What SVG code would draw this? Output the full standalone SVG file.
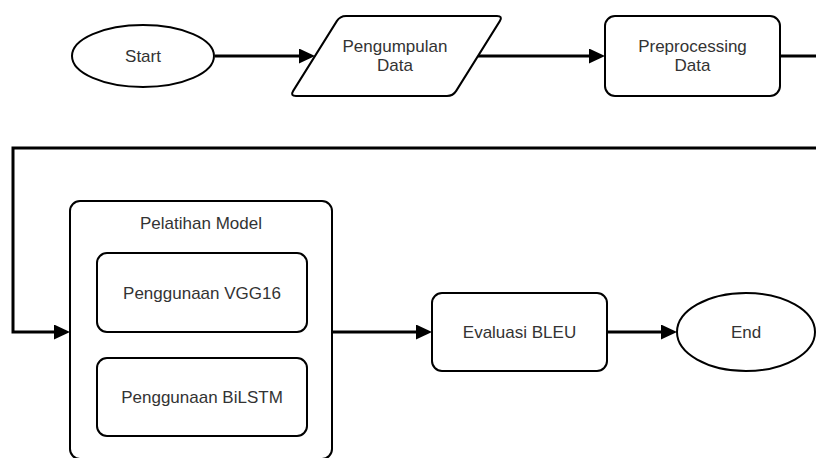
<svg xmlns="http://www.w3.org/2000/svg" width="816" height="458" viewBox="0 0 816 458">
  <style>
    .shape { fill: #ffffff; stroke: #000000; stroke-width: 2; }
    .edge { fill: none; stroke: #000000; stroke-width: 3; marker-end: url(#arrow); }
    .label { font-family: "Liberation Sans", Arial, sans-serif; font-size: 17px; fill: #333333; text-anchor: middle; }
  </style>
  <defs>
    <marker id="arrow" markerUnits="userSpaceOnUse" markerWidth="16" markerHeight="15" refX="2" refY="7.5" orient="auto">
      <path d="M0,0 L16,7.5 L0,15 Z" fill="#000000"/>
    </marker>
  </defs>

  <rect width="816" height="458" fill="#ffffff"/>

  <!-- connectors -->
  <g id="connectors">
    <path class="edge" d="M215,56 H301"/>
    <path class="edge" d="M478,56 H591"/>
    <path class="edge" d="M780,56 H830 V148 H13 V332 H56"/>
    <path class="edge" d="M332,332 H418"/>
    <path class="edge" d="M607,332 H663"/>
  </g>

  <!-- nodes -->
  <g id="start">
    <ellipse class="shape" cx="143" cy="56" rx="71" ry="31"/>
    <text class="label" x="143" y="62">Start</text>
  </g>

  <g id="pengumpulan-data">
    <path class="shape" d="M346,16 H497 Q503,16 499.8,21.1 L456.2,90.9 Q453,96 447,96 H296 Q290,96 293.2,90.9 L336.8,21.1 Q340,16 346,16 Z"/>
    <text class="label" x="395" y="52">Pengumpulan</text>
    <text class="label" x="395" y="71">Data</text>
  </g>

  <g id="preprocessing-data">
    <rect class="shape" x="605" y="16" width="175" height="80" rx="10" ry="10"/>
    <text class="label" x="692.5" y="52">Preprocessing</text>
    <text class="label" x="692.5" y="71">Data</text>
  </g>

  <g id="pelatihan-model">
    <rect class="shape" x="70" y="201" width="262" height="258" rx="10" ry="10"/>
    <text class="label" x="201" y="229">Pelatihan Model</text>
    <g id="penggunaan-vgg16">
      <rect class="shape" x="97" y="253" width="210" height="79" rx="10" ry="10"/>
      <text class="label" x="202" y="299">Penggunaan VGG16</text>
    </g>
    <g id="penggunaan-bilstm">
      <rect class="shape" x="97" y="358" width="210" height="78" rx="10" ry="10"/>
      <text class="label" x="202" y="403">Penggunaan BiLSTM</text>
    </g>
  </g>

  <g id="evaluasi-bleu">
    <rect class="shape" x="432" y="293" width="175" height="78" rx="10" ry="10"/>
    <text class="label" x="519.5" y="338">Evaluasi BLEU</text>
  </g>

  <g id="end">
    <ellipse class="shape" cx="746" cy="332" rx="69" ry="39"/>
    <text class="label" x="746" y="338">End</text>
  </g>
</svg>
